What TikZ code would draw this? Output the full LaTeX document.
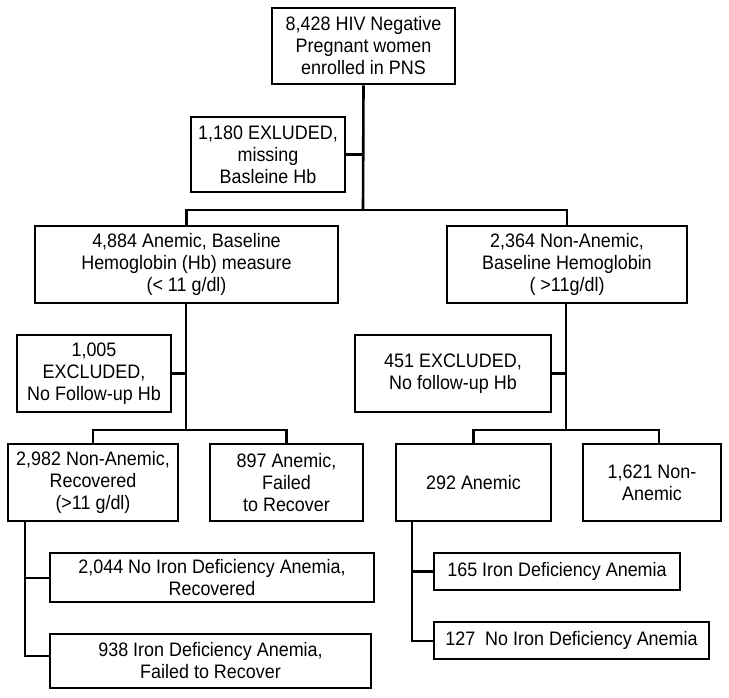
\documentclass[tikz,border=0pt]{standalone}
\usepackage{fontspec}
\setmainfont{Liberation Sans}[FakeStretch=0.92]
\usetikzlibrary{calc}
\begin{document}
\begin{tikzpicture}[x=1pt,y=-1pt,
  box/.style={draw=black,line width=2.6pt,inner sep=0pt,align=center,
    font=\fontsize{19.5}{22}\selectfont,text=black},
  link/.style={draw=black,line width=2.6pt}]
\useasboundingbox (0,0) rectangle (729,698);
\node[box,minimum width=183pt,minimum height=76pt] (top) at (363.5,46) {8,428 HIV Negative\\Pregnant women\\enrolled in PNS};
\node[box,minimum width=154pt,minimum height=75pt] (ex1) at (268,154.5) {1,180 EXLUDED,\\missing\\Basleine Hb};
\node[box,minimum width=303pt,minimum height=77pt] (an) at (186.5,264.5) {4,884 Anemic, Baseline\\Hemoglobin (Hb) measure\\(< 11 g/dl)};
\node[box,minimum width=240pt,minimum height=77pt] (na) at (567,264.5) {2,364 Non-Anemic,\\Baseline Hemoglobin\\( >11g/dl)};
\node[box,minimum width=154pt,minimum height=77pt] (ex2) at (94,373.5) {1,005\\EXCLUDED,\\No Follow-up Hb};
\node[box,minimum width=196pt,minimum height=77pt] (ex3) at (453,373.5) {451 EXCLUDED,\\No follow-up Hb};
\node[box,minimum width=170pt,minimum height=77pt] (rec) at (93,482.5) {2,982 Non-Anemic,\\Recovered\\(>11 g/dl)};
\node[box,minimum width=153pt,minimum height=77pt] (fail) at (286.5,482.5) {897 Anemic,\\Failed\\to Recover};
\node[box,minimum width=155pt,minimum height=77pt] (ane) at (473.5,482.5) {292 Anemic};
\node[box,minimum width=138pt,minimum height=77pt] (non) at (652,482.5) {1,621 Non-\\Anemic};
\node[box,minimum width=324pt,minimum height=49pt] (d1) at (212,577.5) {2,044 No Iron Deficiency Anemia,\\Recovered};
\node[box,minimum width=321pt,minimum height=54pt] (d2) at (210.5,661) {938 Iron Deficiency Anemia,\\Failed to Recover};
\node[box,minimum width=246pt,minimum height=37pt] (e1) at (557,571.5) {165 Iron Deficiency Anemia};
\node[box,minimum width=275pt,minimum height=37pt] (e2) at (571.5,640.5) {127\ \ No Iron Deficiency Anemia};
% junction coordinates
\coordinate (j1) at (363,210);
\coordinate (j2) at (186,430);
\coordinate (j3) at (566,430);
\coordinate (j4) at (25,656);
\coordinate (j5) at (412,641);
% top level
\draw[link] (top.south) -- (j1);
\draw[link] (ex1.east) -- (ex1.east -| j1);
\draw[link] (an.north) -- (an.north |- j1) -- (na.north |- j1) -- (na.north);
% anemic branch
\draw[link] (an.south -| j2) -- (j2);
\draw[link] (ex2.east) -- (ex2.east -| j2);
\draw[link] (rec.north) -- (rec.north |- j2) -- (fail.north |- j2) -- (fail.north);
% non-anemic branch
\draw[link] (na.south -| j3) -- (j3);
\draw[link] (ex3.east) -- (ex3.east -| j3);
\coordinate (nontop) at (659,444);
\draw[link] (ane.north) -- (ane.north |- j3) -- (nontop |- j3) -- (nontop);
% recovered sub
\draw[link] (rec.south -| j4) -- (j4) -- (j4 -| d2.west);
\draw[link] (d1.west |- 578,578) -- (j4 |- 578,578);
% anemic sub
\draw[link] (ane.south -| j5) -- (j5) -- (j5 -| e2.west);
\draw[link] (e1.west) -- (e1.west -| j5);
\end{tikzpicture}
\end{document}
